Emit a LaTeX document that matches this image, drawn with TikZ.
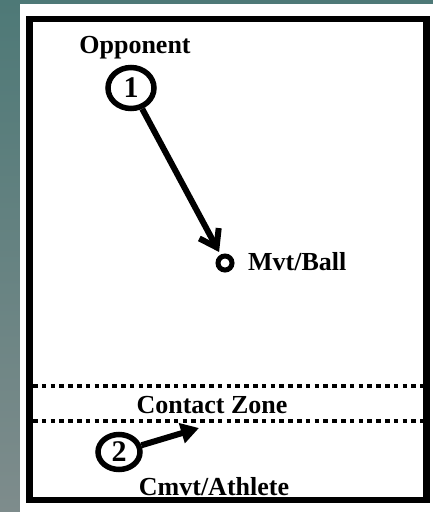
\documentclass[tikz,border=0pt]{standalone}
\usepackage{fontspec}
\setmainfont{Liberation Serif}
\usetikzlibrary{shapes.geometric,arrows.meta}
\definecolor{bgtop}{RGB}{78,121,119}
\definecolor{bgbot}{RGB}{126,140,140}
\begin{document}
\begin{tikzpicture}[x=1pt,y=-1pt,
  lbl/.style={font=\fontsize{26}{30}\selectfont\bfseries, inner sep=0pt, anchor=base},
  player/.style={ellipse, draw, line width=5.5pt, inner sep=0pt, font=\fontsize{30}{34}\selectfont\bfseries},
  zone/.style={line width=4pt, dash pattern=on 4.5pt off 4.3pt},
  mv/.style={line width=6pt}]
\useasboundingbox (0,0) rectangle (433,512);
\shade[top color=bgtop,bottom color=bgbot] (0,0) rectangle (433,512);
\fill[white] (20,4) rectangle (433,512);
\draw[line width=6.5pt] (29.5,19) rectangle (426.5,500);
\coordinate (z1l) at (33,386);
\coordinate (z1r) at (423,386);
\coordinate (z2l) at (33,421);
\coordinate (z2r) at (423,421);
\draw[zone] (z1l) -- (z1r);
\draw[zone] (z2l) -- (z2r);
\node[lbl] (opp) at (135,53) {Opponent};
\node[player, minimum width=46pt, minimum height=41pt] (p1) at (131,88) {1};
\node[circle, draw, line width=5pt, minimum size=14pt, inner sep=0pt] (ball) at (225,263) {};
\node[lbl, anchor=base west] (ballt) at (248,270) {Mvt/Ball};
\node[lbl] (cz) at (212,413) {Contact Zone};
\node[player, minimum width=42pt, minimum height=35pt] (p2) at (119,452) {2};
\node[lbl] (ath) at (214,495) {Cmvt/Athlete};
\coordinate (t2) at (199,428);
\draw[mv, shorten >=3pt, -{Straight Barb[length=16pt,width=22pt]}] (p1) -- (ball);
\draw[mv, -{Triangle[length=18pt,width=20pt]}] (p2) -- (t2);
\end{tikzpicture}
\end{document}
